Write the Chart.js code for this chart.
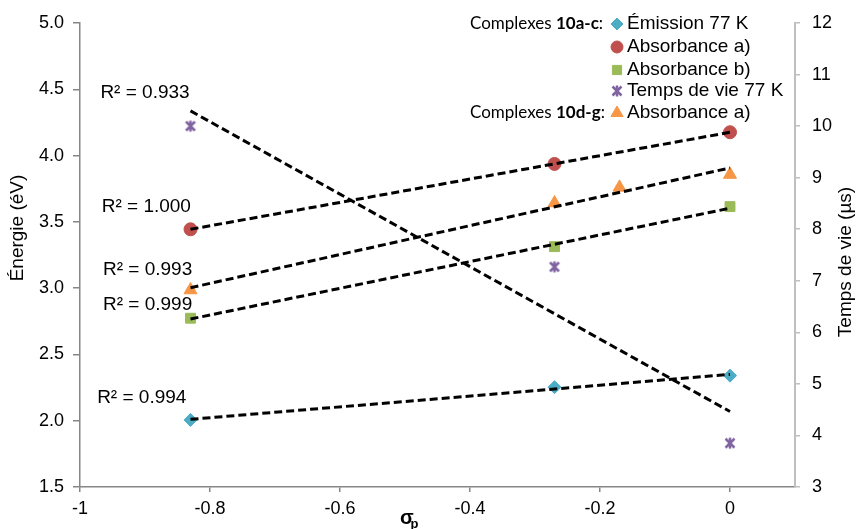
<!DOCTYPE html>
<html>
<head>
<meta charset="utf-8">
<script src="https://cdn.jsdelivr.net/npm/chart.js@4.4.1/dist/chart.umd.min.js"></script>
<style>
  html, body { margin: 0; background: #fff; }
</style>
</head>
<body>
<canvas id="chart" width="858" height="529"></canvas>
<script>
// ─── DATA ─────────────────────────────────────────────────
const SIGMA_AC      = [-0.83, -0.27, 0];          // complexes 10a-c
const SIGMA_DG      = [-0.83, -0.27, -0.17, 0];   // complexes 10d-g
const EMISSION_77K  = [2.006, 2.253, 2.340];      // eV
const ABS_A         = [3.444, 3.937, 4.176];      // eV
const ABS_B         = [2.773, 3.313, 3.615];      // eV
const LIFETIME_77K  = [10.00, 7.27, 3.85];        // µs (right axis)
const ABS_A_DG      = [2.986, 3.642, 3.760, 3.857];
const R2_VALUES     = ['0.994', '1.000', '0.999', '0.933', '0.993'];

const SIGMA_TICKS    = [-1, -0.8, -0.6, -0.4, -0.2, 0];
const ENERGY_TICKS   = [1.5, 2.0, 2.5, 3.0, 3.5, 4.0, 4.5, 5.0];
const LIFETIME_TICKS = [3, 4, 5, 6, 7, 8, 9, 10, 11, 12];

// Excel-like "star" marker: an X with a vertical stroke
function starMarker(color) {
  const c = document.createElement('canvas');
  c.width = 14; c.height = 14;
  const g = c.getContext('2d');
  g.strokeStyle = color;
  g.lineWidth = 2.5;
  g.beginPath();
  g.moveTo(2.5, 2.5); g.lineTo(11.5, 11.5);
  g.moveTo(11.5, 2.5); g.lineTo(2.5, 11.5);
  g.moveTo(7, 1.5); g.lineTo(7, 12.5);
  g.stroke();
  return c;
}

// ─── SERIES STYLE ──────────────────────────────────────────
const SERIES = [
  { label: 'Émission 77 K',     x: SIGMA_AC, y: EMISSION_77K, axis: 'y',  shape: 'rectRot',  color: '#4BACC6', r: 6.5 },
  { label: 'Absorbance a)',     x: SIGMA_AC, y: ABS_A,        axis: 'y',  shape: 'circle',   color: '#C0504D', r: 6.5 },
  { label: 'Absorbance b)',     x: SIGMA_AC, y: ABS_B,        axis: 'y',  shape: 'rect',     color: '#9BBB59', r: 7 },
  { label: 'Temps de vie 77 K', x: SIGMA_AC, y: LIFETIME_77K, axis: 'y2', shape: starMarker('#8064A2'), color: '#8064A2', r: 6 },
  { label: 'Absorbance a)',     x: SIGMA_DG, y: ABS_A_DG,     axis: 'y',  shape: 'triangle', color: '#F79646', r: 7.5 },
];

// where the R² labels sit, in data units (x, left-axis y)
const R2_POS = [[-0.905, 2.172], [-0.898, 3.612], [-0.896, 2.873], [-0.900, 4.472], [-0.896, 3.137]];

const FONT = '"Liberation Sans", Arial, sans-serif';

// least squares line, evaluated at the ends of the series
function trend(xs, ys) {
  const n = xs.length;
  const mx = xs.reduce((a, b) => a + b, 0) / n;
  const my = ys.reduce((a, b) => a + b, 0) / n;
  let sxy = 0, sxx = 0;
  xs.forEach((x, i) => { sxy += (x - mx) * (ys[i] - my); sxx += (x - mx) ** 2; });
  const k = sxy / sxx;
  const x0 = Math.min(...xs), x1 = Math.max(...xs);
  return [{ x: x0, y: my + k * (x0 - mx) }, { x: x1, y: my + k * (x1 - mx) }];
}

const datasets = [];
SERIES.forEach(s => {
  datasets.push({
    type: 'scatter',
    label: s.label,
    data: s.x.map((x, i) => ({ x, y: s.y[i] })),
    yAxisID: s.axis,
    pointStyle: s.shape,
    pointRadius: s.r,
    pointBackgroundColor: s.color,
    pointBorderColor: s.color,
    pointBorderWidth: 1,
    order: 2,
  });
  datasets.push({
    type: 'line',
    data: trend(s.x, s.y),
    yAxisID: s.axis,
    borderColor: '#000',
    borderWidth: 3,
    borderDash: [8, 4],
    pointRadius: 0,
    fill: false,
    order: 1,
  });
});

// ─── DECORATION: legend, R² labels, axis titles ───────────
const decorations = {
  id: 'decorations',
  afterDraw(chart) {
    const ctx = chart.ctx;
    const { x, y } = chart.scales;
    ctx.save();
    ctx.fillStyle = '#000';
    ctx.textBaseline = 'middle';

    // R² labels
    ctx.font = `19px ${FONT}`;
    ctx.textAlign = 'center';
    R2_VALUES.forEach((v, i) => {
      const [px, py] = R2_POS[i];
      ctx.fillText('R² = ' + v, x.getPixelForValue(px), y.getPixelForValue(py));
    });

    // legend
    const rows = [24, 47, 70, 91, 113];
    const groups = { 0: '10a-c', 4: '10d-g' };
    ctx.textAlign = 'left';
    SERIES.forEach((s, i) => {
      const ry = rows[i];
      ctx.fillStyle = s.color; ctx.strokeStyle = s.color;
      ctx.lineWidth = 1;
      Chart.helpers.drawPoint(ctx, {
        pointStyle: s.shape, radius: s.r - 0.5, rotation: 0, borderWidth: 1,
      }, 617, ry);
      ctx.fillStyle = '#000';
      ctx.font = `19px ${FONT}`;
      ctx.fillText(s.label, 627, ry);

      if (groups[i]) {
        let gx = 470;
        const parts = [['Complexes ', ''], [groups[i], 'bold '], [':', '']];
        parts.forEach(([t, w]) => {
          ctx.font = `${w}17px Lato, "Open Sans", sans-serif`;
          ctx.fillText(t, gx, ry);
          gx += ctx.measureText(t).width;
        });
      }
    });

    // axis titles
    ctx.font = `19px ${FONT}`;
    ctx.textAlign = 'center';
    ctx.save();
    ctx.translate(18, 228);
    ctx.rotate(-Math.PI / 2);
    ctx.fillText('Énergie (éV)', 0, 0);
    ctx.restore();

    ctx.save();
    ctx.translate(846, 262);
    ctx.rotate(-Math.PI / 2);
    ctx.fillText('Temps de vie (µs)', 0, 0);
    ctx.restore();

    ctx.textAlign = 'left';
    ctx.font = `bold 20px ${FONT}`;
    ctx.fillText('σ', 400, 518);
    ctx.font = `bold 13px ${FONT}`;
    ctx.fillText('p', 410.5, 524);
    ctx.restore();
  },
};

const tickFont = { family: FONT, size: 18 };

new Chart(document.getElementById('chart'), {
  type: 'scatter',
  data: { datasets },
  plugins: [decorations],
  options: {
    responsive: false,
    animation: false,
    devicePixelRatio: 1,
    layout: { padding: { top: 23, left: 0, right: 0, bottom: 0 } },
    plugins: { legend: { display: false }, tooltip: { enabled: false } },
    scales: {
      x: {
        type: 'linear', min: -1, max: 0.1,
        afterBuildTicks: s => { s.ticks = SIGMA_TICKS.map(v => ({ value: v })); },
        afterFit: s => { s.height = 42; },
        ticks: { font: tickFont, color: '#000', padding: 6, maxRotation: 0,
                 callback: v => String(Math.round(v * 10) / 10) },
        grid: { drawOnChartArea: false, tickLength: 5, color: '#868686', lineWidth: 1.5 },
        border: { color: '#868686', width: 1.5 },
      },
      y: {
        type: 'linear', position: 'left', min: 1.5, max: 5,
        afterBuildTicks: s => { s.ticks = ENERGY_TICKS.map(v => ({ value: v })); },
        afterFit: s => { s.width = 80; },
        ticks: { font: tickFont, color: '#000', padding: 9, callback: v => v.toFixed(1) },
        grid: { drawOnChartArea: false, tickLength: 7, color: '#868686', lineWidth: 1.5 },
        border: { color: '#868686', width: 1.5 },
      },
      y2: {
        type: 'linear', position: 'right', min: 3, max: 12,
        afterBuildTicks: s => { s.ticks = LIFETIME_TICKS.map(v => ({ value: v })); },
        afterFit: s => { s.width = 63; },
        ticks: { font: tickFont, color: '#000', padding: 12, callback: v => String(v) },
        grid: { drawOnChartArea: false, tickLength: 5, color: '#BFBFBF', lineWidth: 1.5 },
        border: { color: '#BFBFBF', width: 2 },
      },
    },
  },
});
</script>
</body>
</html>
